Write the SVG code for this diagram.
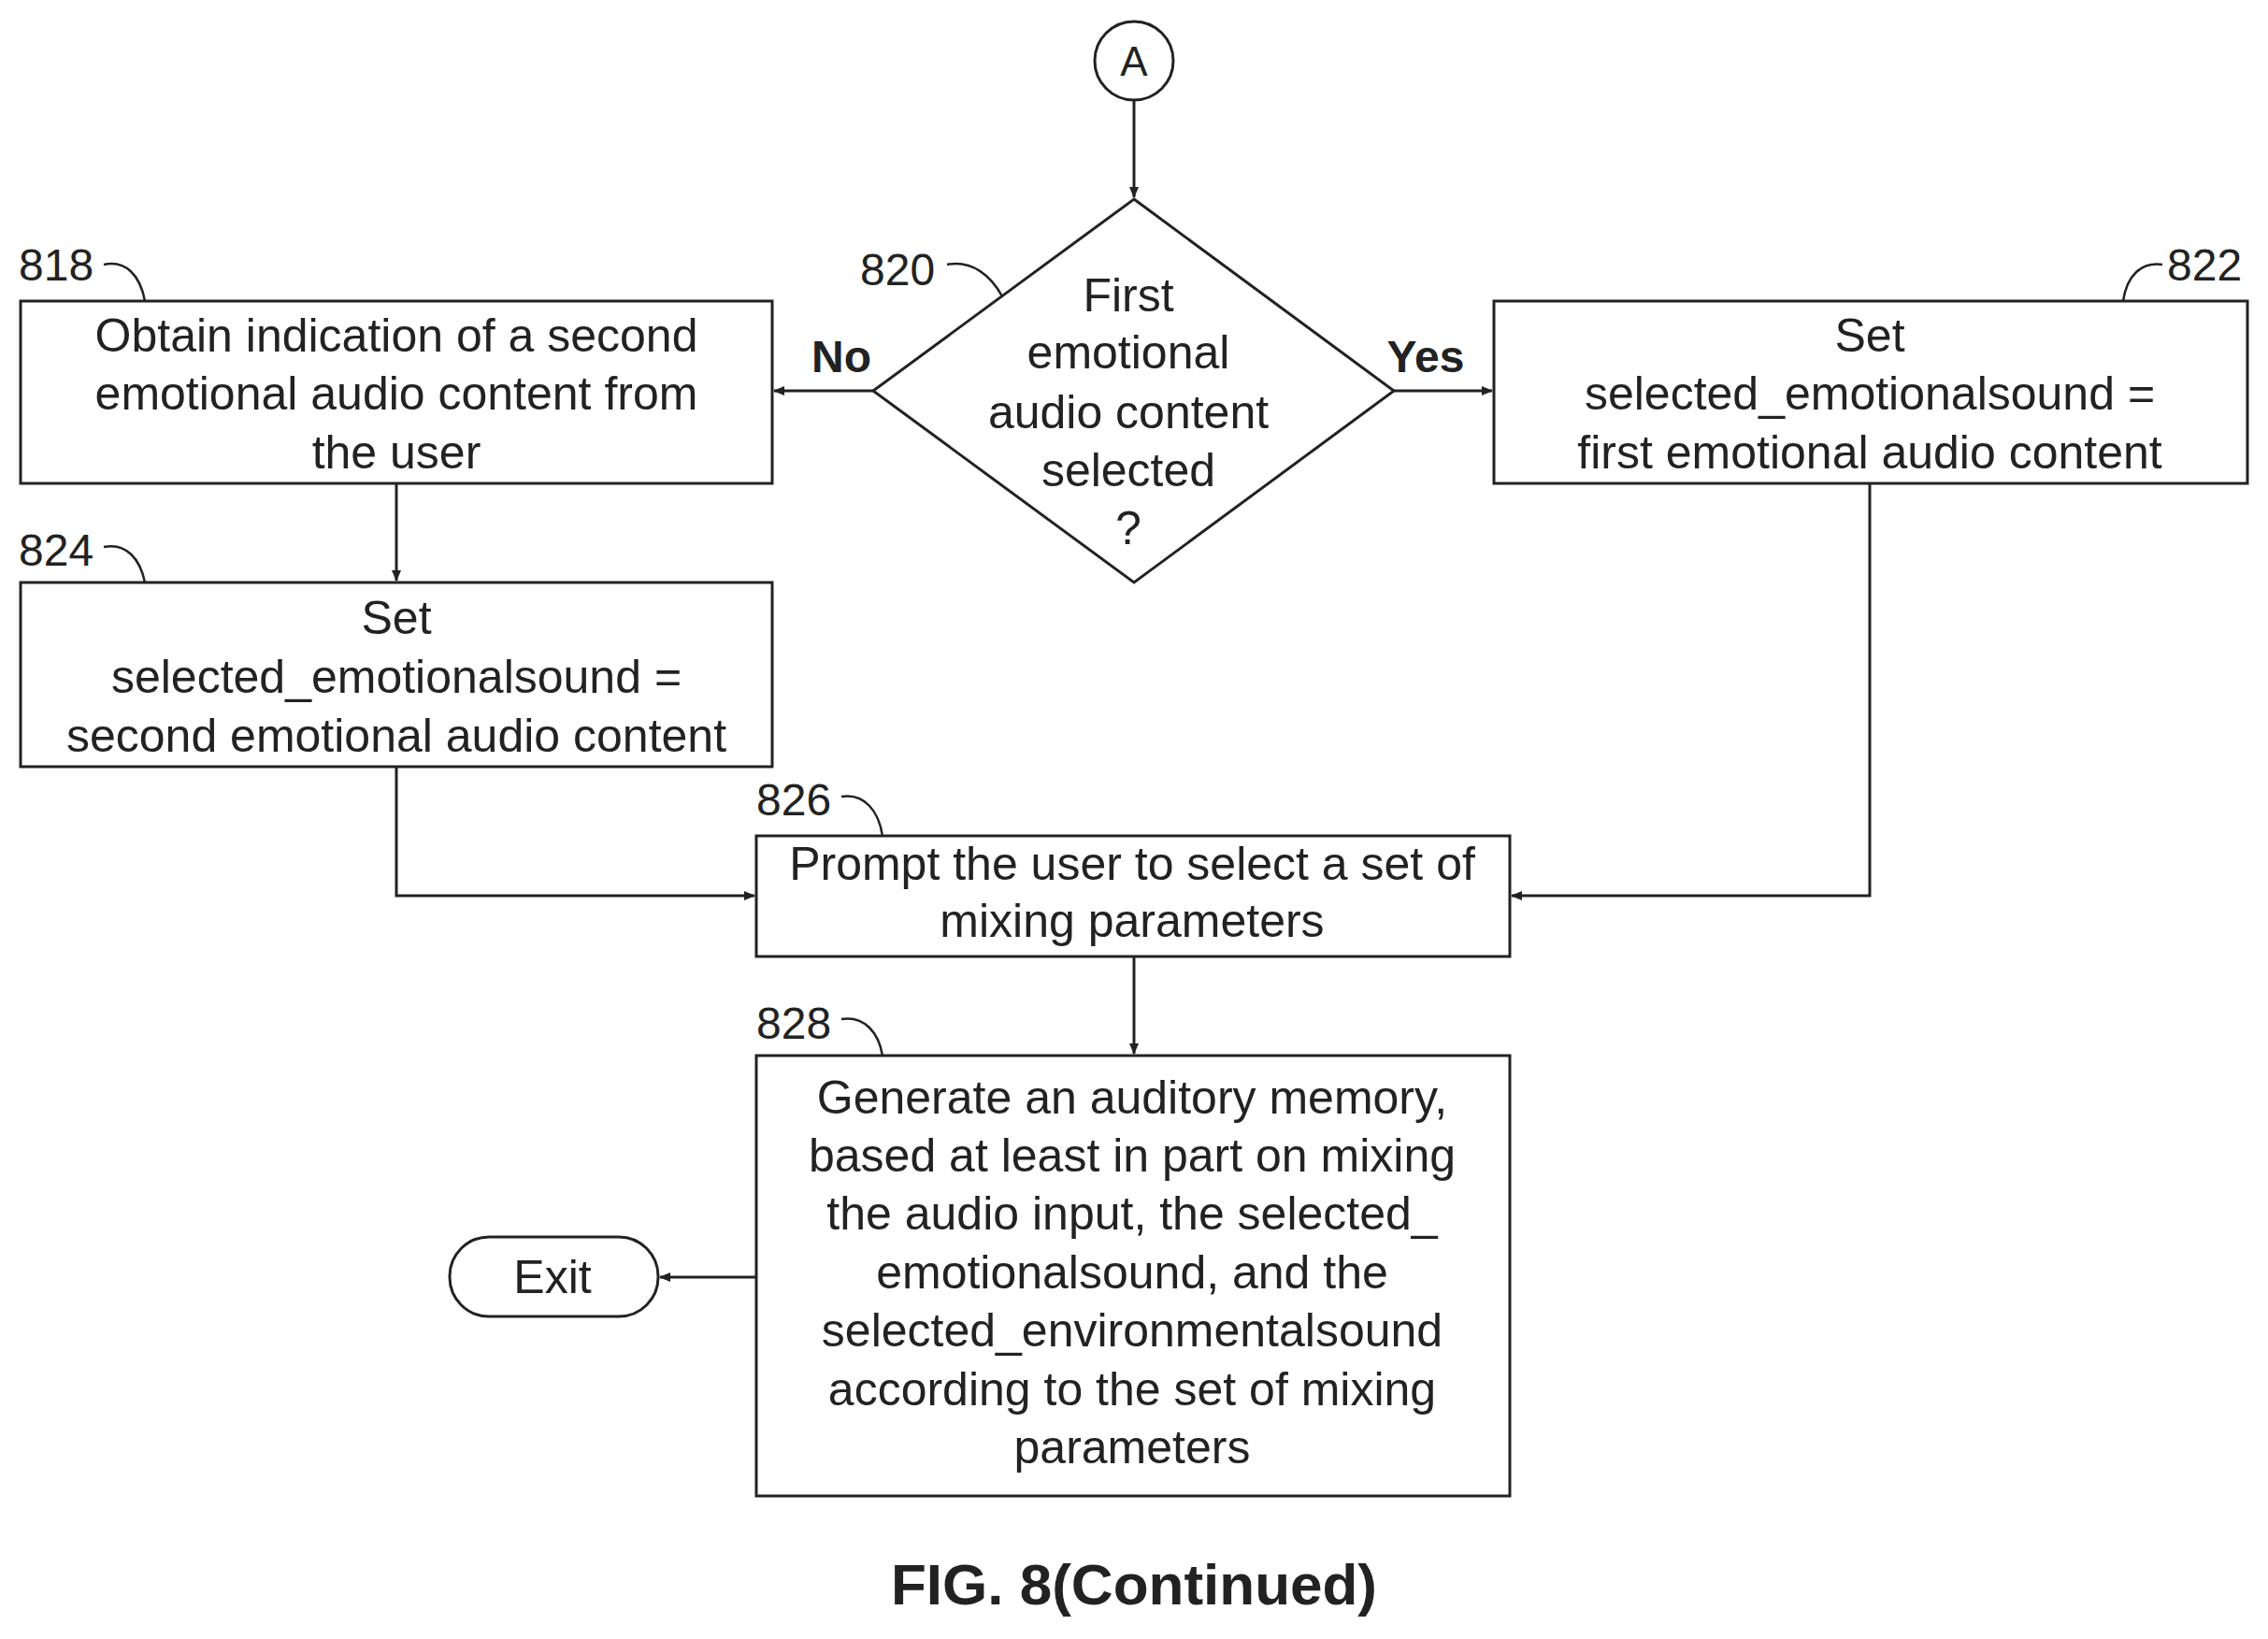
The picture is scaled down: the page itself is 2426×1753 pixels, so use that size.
<svg xmlns="http://www.w3.org/2000/svg" width="2426" height="1753" viewBox="0 0 2426 1753">
<style>
.b{fill:#fff;stroke:#222;stroke-width:3}
.t{font-family:"Liberation Sans",Arial,sans-serif;font-size:50px;fill:#222;text-anchor:middle;dominant-baseline:central}
.n{font-family:"Liberation Sans",Arial,sans-serif;font-size:48px;fill:#222;dominant-baseline:central}
.bd{font-weight:bold}
.c{fill:none;stroke:#222;stroke-width:3}
.l{fill:none;stroke:#222;stroke-width:2.5}
</style>
<defs><marker id="a" markerWidth="12" markerHeight="10" refX="11" refY="5" orient="auto" markerUnits="userSpaceOnUse" viewBox="0 0 12 10"><path d="M0,0 L12,5 L0,10 Z" fill="#222"/></marker></defs>
<rect width="2426" height="1753" fill="#fff"/>
<g id="connectors">
<path class="c" d="M1213,107 V211" marker-end="url(#a)"/>
<path class="c" d="M934,418 H828" marker-end="url(#a)"/>
<path class="c" d="M1491,418 H1596" marker-end="url(#a)"/>
<path class="c" d="M424,517 V621" marker-end="url(#a)"/>
<path class="c" d="M424,820 V958 H807" marker-end="url(#a)"/>
<path class="c" d="M2000,517 V958 H1617" marker-end="url(#a)"/>
<path class="c" d="M1213,1023 V1127" marker-end="url(#a)"/>
<path class="c" d="M809,1366 H706" marker-end="url(#a)"/>
<text class="n bd" x="900" y="381" text-anchor="middle">No</text>
<text class="n bd" x="1525" y="381" text-anchor="middle">Yes</text>
</g>
<g id="A"><circle class="b" cx="1213" cy="65" r="42"/><text class="t" x="1213" y="65" style="font-size:44px">A</text></g>
<g id="n820"><polygon class="b" points="1213,213 1491,418 1213,623 934,418"/>
<text class="t" x="1207" y="316">First</text><text class="t" x="1207" y="377">emotional</text><text class="t" x="1207" y="441">audio content</text><text class="t" x="1207" y="503">selected</text><text class="t" x="1207" y="565">?</text>
<text class="n" x="920" y="288">820</text><path class="l" d="M1013,283 C1040,278 1060,295 1072,317"/></g>
<g id="n818"><rect class="b" x="22" y="322" width="804" height="195"/>
<text class="t" x="424" y="359">Obtain indication of a second</text><text class="t" x="424" y="421">emotional audio content from</text><text class="t" x="424" y="484">the user</text>
<text class="n" x="20" y="283">818</text><path class="l" d="M111,283 C135,278 150,295 155,322"/></g>
<g id="n822"><rect class="b" x="1598" y="322" width="806" height="195"/>
<text class="t" x="2000" y="359">Set</text><text class="t" x="2000" y="421">selected_emotionalsound =</text><text class="t" x="2000" y="484">first emotional audio content</text>
<text class="n" x="2318" y="283">822</text><path class="l" d="M2313,283 C2290,280 2275,295 2271,322"/></g>
<g id="n824"><rect class="b" x="22" y="623" width="804" height="197"/>
<text class="t" x="424" y="661">Set</text><text class="t" x="424" y="724">selected_emotionalsound =</text><text class="t" x="424" y="787">second emotional audio content</text>
<text class="n" x="20" y="588">824</text><path class="l" d="M111,585 C135,580 150,598 155,623"/></g>
<g id="n826"><rect class="b" x="809" y="894" width="806" height="129"/>
<text class="t" x="1211" y="924">Prompt the user to select a set of</text><text class="t" x="1211" y="985">mixing parameters</text>
<text class="n" x="809" y="855">826</text><path class="l" d="M900,852 C925,848 940,868 944,894"/></g>
<g id="n828"><rect class="b" x="809" y="1129" width="806" height="471"/>
<text class="t" x="1211" y="1174">Generate an auditory memory,</text><text class="t" x="1211" y="1236">based at least in part on mixing</text><text class="t" x="1211" y="1298">the audio input, the selected_</text><text class="t" x="1211" y="1361">emotionalsound, and the</text><text class="t" x="1211" y="1423">selected_environmentalsound</text><text class="t" x="1211" y="1486">according to the set of mixing</text><text class="t" x="1211" y="1548">parameters</text>
<text class="n" x="809" y="1094">828</text><path class="l" d="M900,1090 C925,1086 940,1105 944,1129"/></g>
<g id="exit"><rect class="b" x="481" y="1323" width="223" height="85" rx="42"/><text class="t" x="591" y="1366">Exit</text></g>
<text class="t bd" x="1213" y="1694" style="font-size:62px">FIG. 8(Continued)</text>
</svg>
